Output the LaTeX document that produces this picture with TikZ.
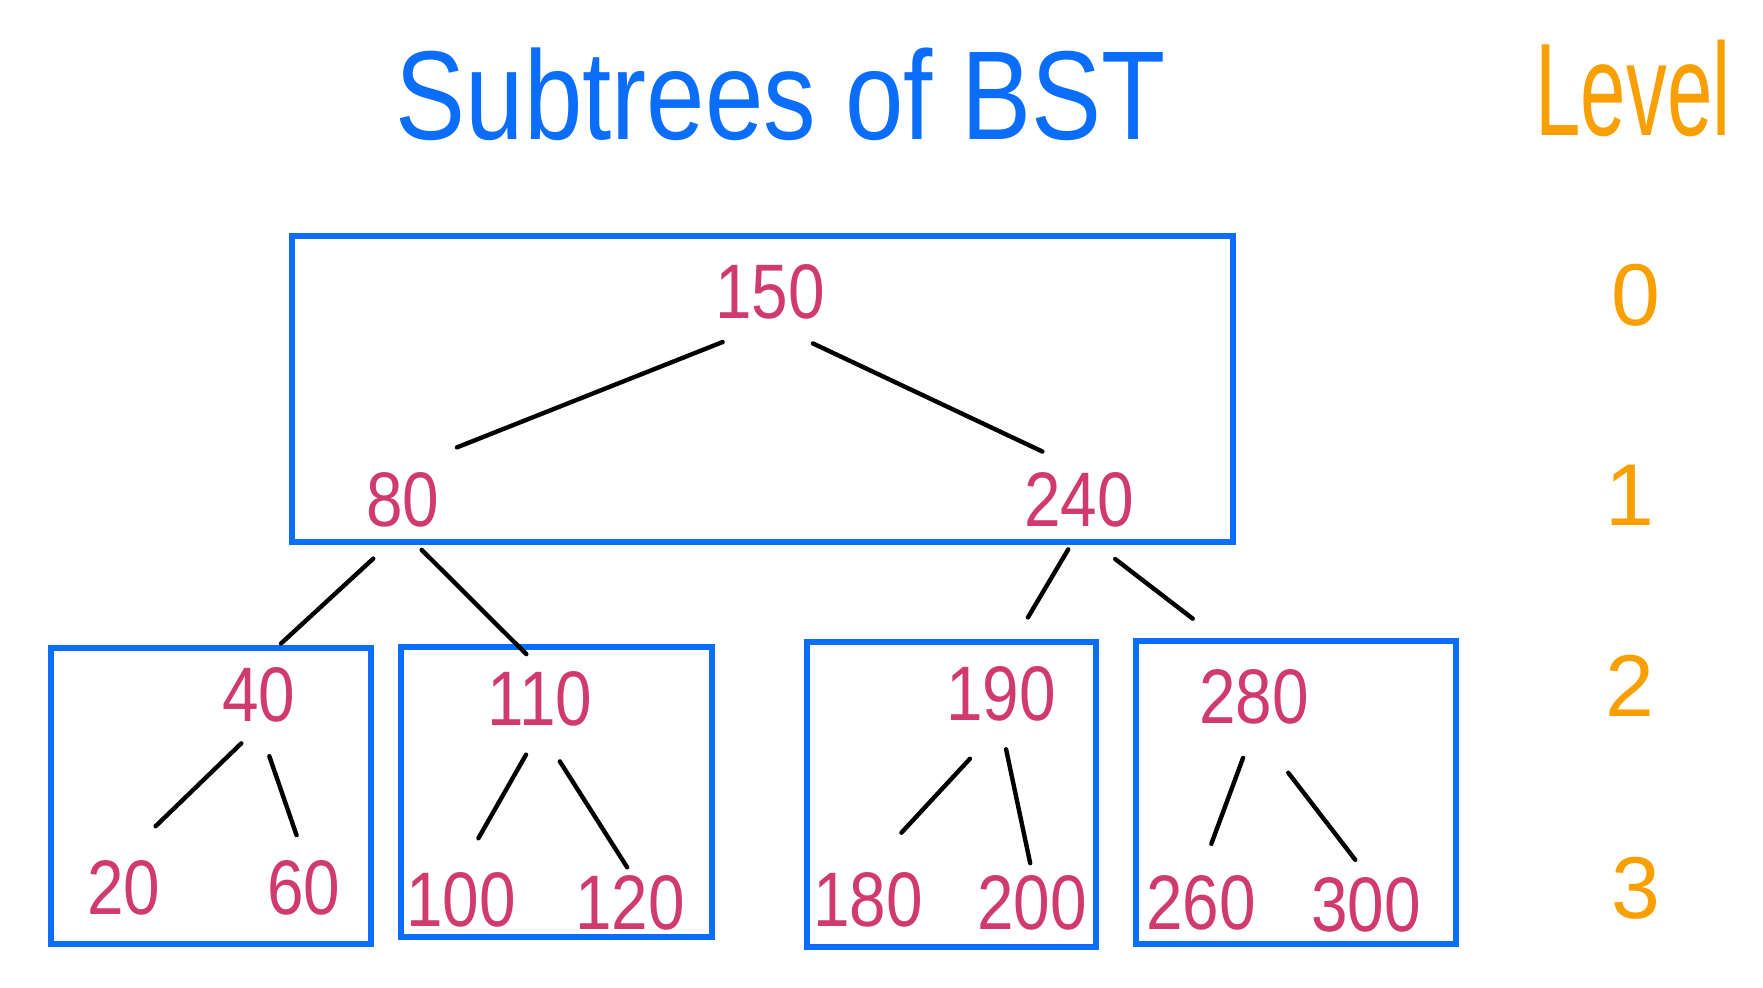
\documentclass[tikz,border=0pt]{standalone}
\usepackage{fontspec}
\setmainfont{Liberation Sans}
\usetikzlibrary{fit}
\definecolor{bblue}{RGB}{10,110,250}
\definecolor{crim}{RGB}{208,58,110}
\definecolor{lorange}{RGB}{249,160,0}
\begin{document}
\begin{tikzpicture}[x=0.02cm,y=-0.02cm,
  box/.style={draw=bblue, line width=3.1pt, inner sep=0pt},
  num/.style={text=crim, font=\fontsize{44}{44}\selectfont, inner sep=2pt, xscale=0.85},
  lvl/.style={text=lorange, font=\fontsize{50}{50}\selectfont},
  link/.style={line width=2.5pt, line cap=round, black}]
\fill[white] (0,0) rectangle (1763,987);
\useasboundingbox (0,0) rectangle (1763,987);

% titles
\node[text=bblue, font=\fontsize{72}{72}\selectfont, xscale=0.83] (title) at (781,94) {Subtrees of BST};
\node[text=lorange, font=\fontsize{75}{75}\selectfont, xscale=0.62] (level) at (1633,88) {Level};

% boxes
\node[box, fit={(292,236) (1233,542)}] (B0) {};
\node[box, fit={(51,648) (371,944)}] (B1) {};
\node[box, fit={(401,647) (712,937)}] (B2) {};
\node[box, fit={(807,642) (1096,947)}] (B3) {};
\node[box, fit={(1136,641) (1456,944)}] (B4) {};

% numbers
\node[num] (n150) at (770,292) {150};
\node[num] (n80)  at (403,500) {80};
\node[num] (n240) at (1079,500) {240};
\node[num] (n40)  at (259,695) {40};
\node[num] (n20)  at (124,888) {20};
\node[num] (n60)  at (304,888) {60};
\node[num] (n110) at (540,699) {110};
\node[num] (n100) at (461,900) {100};
\node[num] (n120) at (630,903) {120};
\node[num] (n190) at (1001,694) {190};
\node[num] (n180) at (868,900) {180};
\node[num] (n200) at (1032,903) {200};
\node[num] (n280) at (1254,697) {280};
\node[num] (n260) at (1201,903) {260};
\node[num] (n300) at (1366,905) {300};

% levels
\node[lvl] (l0) at (1636,295) {0};
\node[lvl] (l1) at (1630,495) {1};
\node[lvl] (l2) at (1630,686) {2};
\node[lvl] (l3) at (1636,888) {3};

% edges
\draw[link, shorten <=29pt, shorten >=33pt] (n150.south) -- (n80.north);
\draw[link, shorten <=27pt, shorten >=23pt] (n150.south) -- (n240.north);
\draw[link, shorten <=23pt, shorten >=17pt] (n80.south) -- (n40.north);
\draw[link, shorten <=15pt, shorten >=11pt] (n80.south) -- (n110.north);
\draw[link, shorten <=12pt, shorten >=30pt] (n240.south) -- (n190.north);
\draw[link, shorten <=26pt, shorten >=44pt] (n240.south) -- (n280.north);
\draw[link, shorten <=14pt, shorten >=25pt] (n40.south) -- (n20.north);
\draw[link, shorten <=18pt, shorten >=13pt] (n40.south) -- (n60.north);
\draw[link, shorten <=16pt, shorten >=20pt] (n110.south) -- (n100.north);
\draw[link, shorten <=21pt, shorten >=3pt] (n110.south) -- (n120.north);
\draw[link, shorten <=26pt, shorten >=28pt] (n190.south) -- (n180.north);
\draw[link, shorten <=14pt, shorten >=5pt] (n190.south) -- (n200.north);
\draw[link, shorten <=18pt, shorten >=17pt] (n280.south) -- (n260.north);
\draw[link, shorten <=32pt, shorten >=10pt] (n280.south) -- (n300.north);
\end{tikzpicture}
\end{document}
